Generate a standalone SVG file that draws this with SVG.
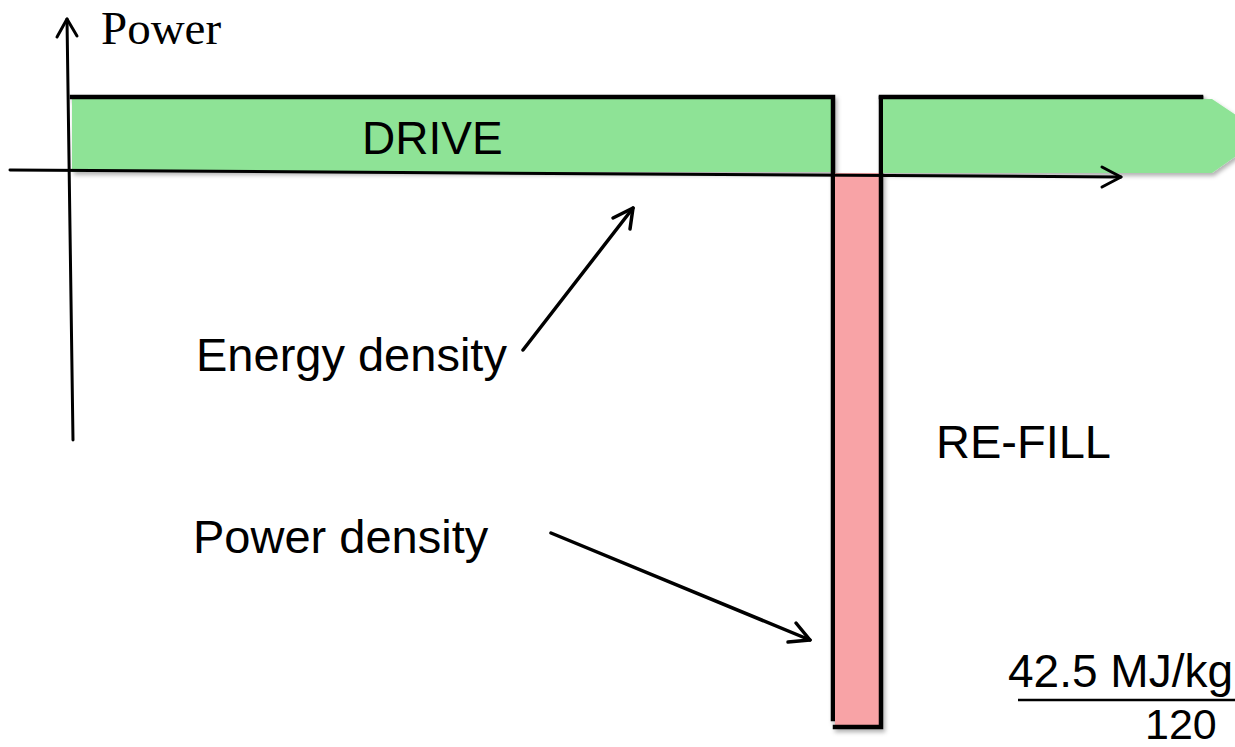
<svg xmlns="http://www.w3.org/2000/svg" width="1235" height="747" viewBox="0 0 1235 747">
<defs>
<filter id="sh" x="-10%" y="-10%" width="130%" height="130%">
<feDropShadow dx="2" dy="3" stdDeviation="2" flood-color="#000" flood-opacity="0.3"/>
</filter>
</defs>
<style>
.sans{font-family:"Liberation Sans",Arial,sans-serif;font-size:47px;fill:#000}
.serif{font-family:"Liberation Serif","Times New Roman",serif;font-size:47px;fill:#000}
.edge{stroke:#000;stroke-width:4.5;fill:none;stroke-linecap:square}
.ln{stroke:#000;stroke-width:3.5;fill:none;stroke-linecap:round;stroke-linejoin:round}
.ax{stroke:#000;stroke-width:3;fill:none;stroke-linecap:round;stroke-linejoin:round}
</style>
<rect width="1235" height="747" fill="#fff"/>
<g id="drive-bar" filter="url(#sh)">
<rect x="72" y="99" width="761" height="73" fill="#8EE396"/>
<path class="edge" d="M72 97 H833 V719"/>
</g>
<g id="refill-bar" filter="url(#sh)">
<rect x="835" y="173" width="45" height="554" fill="#F8A3A6"/>
<path class="edge" d="M835 727 H881 V98 H1201"/>
</g>
<g id="drive-right" filter="url(#sh)">
<path d="M883 99 H1212 L1266 135 L1212 173 H883 Z" fill="#8EE396"/>
<path class="edge" d="M881 97 H1201"/>
</g>
<g id="axes">
<path class="ax" d="M73 440 L67 19"/>
<path class="ax" d="M57 37 L67 19 L77 36"/>
<path class="ax" d="M10 170 L1121 177"/>
<path class="ax" d="M1102 167 L1121 177 L1102 187"/>
<text class="serif" x="101" y="44">Power</text>
</g>
<g id="labels">
<text class="sans" x="362" y="154" style="font-size:46px">DRIVE</text>
<text class="sans" x="196" y="371">Energy density</text>
<text class="sans" x="193" y="553">Power density</text>
<text class="sans" x="936" y="458">RE-FILL</text>
<text class="sans" x="1008" y="687" style="font-size:46px">42.5 MJ/kg</text>
<text class="sans" x="1145" y="739" style="font-size:43px">120</text>
<path d="M1018 700 H1235" stroke="#000" stroke-width="2.5"/>
</g>
<g id="connectors">
<path class="ln" d="M523 350 L633 208"/>
<path class="ln" d="M613 218 L633 208 L630 229"/>
<path class="ln" d="M551 533 L810 640"/>
<path class="ln" d="M796 623 L810 640 L788 642"/>
</g>
</svg>
